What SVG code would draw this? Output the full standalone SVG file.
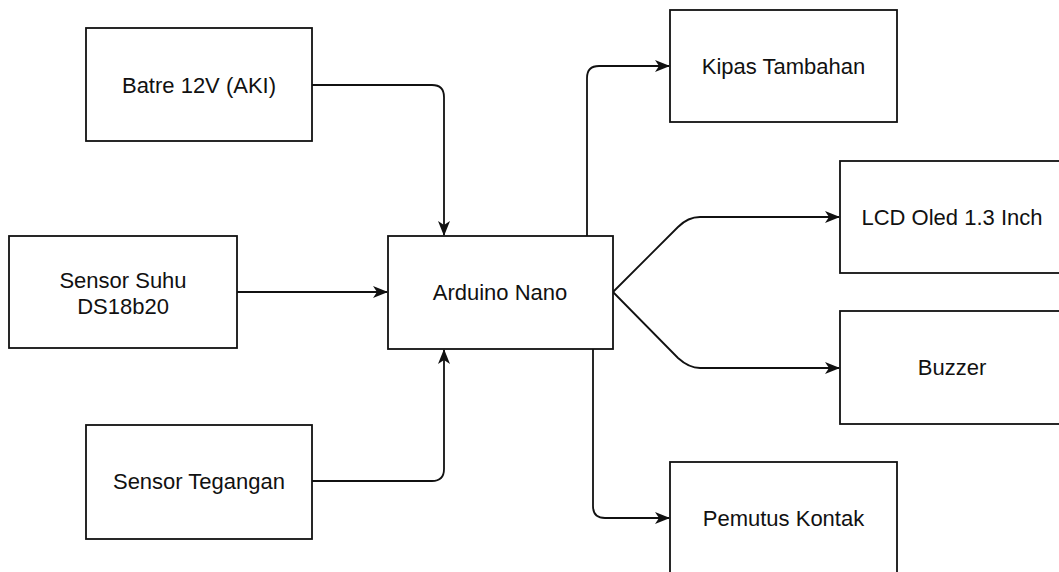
<svg xmlns="http://www.w3.org/2000/svg" width="1059" height="572" viewBox="0 0 1059 572">
<style>
.box{fill:#fff;stroke:#111;stroke-width:1.8}
.lbl{font-family:"Liberation Sans",Arial,Helvetica,sans-serif;font-size:22px;fill:#111;text-anchor:middle}
.con{fill:none;stroke:#111;stroke-width:1.8}
</style>
<defs>
<marker id="arr" markerUnits="userSpaceOnUse" markerWidth="15" markerHeight="12" refX="14" refY="6" orient="auto" viewBox="0 0 15 12">
<path d="M0,0 L15,6 L0,12 L4,6 Z" fill="#111"/>
</marker>
</defs>
<rect width="1059" height="572" fill="#fff"/>
<g id="connectors">
<path class="con" d="M312,85 H432 Q444,85 444,97 V235" marker-end="url(#arr)"/>
<path class="con" d="M237,292 H387" marker-end="url(#arr)"/>
<path class="con" d="M312,481 H432 Q444,481 444,469 V350" marker-end="url(#arr)"/>
<path class="con" d="M587,236 V78 Q587,66 599,66 H669" marker-end="url(#arr)"/>
<path class="con" d="M613,292 L678,227 Q688,217 700,217 H839" marker-end="url(#arr)"/>
<path class="con" d="M613,292 L678,358 Q689,368 700,368 H839" marker-end="url(#arr)"/>
<path class="con" d="M593,349 V506 Q593,518 605,518 H669" marker-end="url(#arr)"/>
</g>
<g id="batre">
<rect class="box" x="86" y="28" width="226" height="113"/>
<text class="lbl" x="199" y="92.5">Batre 12V (AKI)</text>
</g>
<g id="sensor-suhu">
<rect class="box" x="9" y="236" width="228" height="112"/>
<text class="lbl" x="123" y="288">Sensor Suhu</text>
<text class="lbl" x="123" y="314">DS18b20</text>
</g>
<g id="sensor-tegangan">
<rect class="box" x="86" y="425" width="226" height="114"/>
<text class="lbl" x="199" y="489">Sensor Tegangan</text>
</g>
<g id="arduino">
<rect class="box" x="388" y="236" width="225" height="113"/>
<text class="lbl" x="500" y="300">Arduino Nano</text>
</g>
<g id="kipas">
<rect class="box" x="670" y="10" width="227" height="112"/>
<text class="lbl" x="783.5" y="74">Kipas Tambahan</text>
</g>
<g id="lcd">
<rect class="box" x="840" y="161" width="226" height="112"/>
<text class="lbl" x="952" y="225">LCD Oled 1.3 Inch</text>
</g>
<g id="buzzer">
<rect class="box" x="840" y="311" width="226" height="113"/>
<text class="lbl" x="952" y="375">Buzzer</text>
</g>
<g id="pemutus">
<rect class="box" x="670" y="462" width="227" height="113"/>
<text class="lbl" x="783.5" y="526">Pemutus Kontak</text>
</g>
</svg>
